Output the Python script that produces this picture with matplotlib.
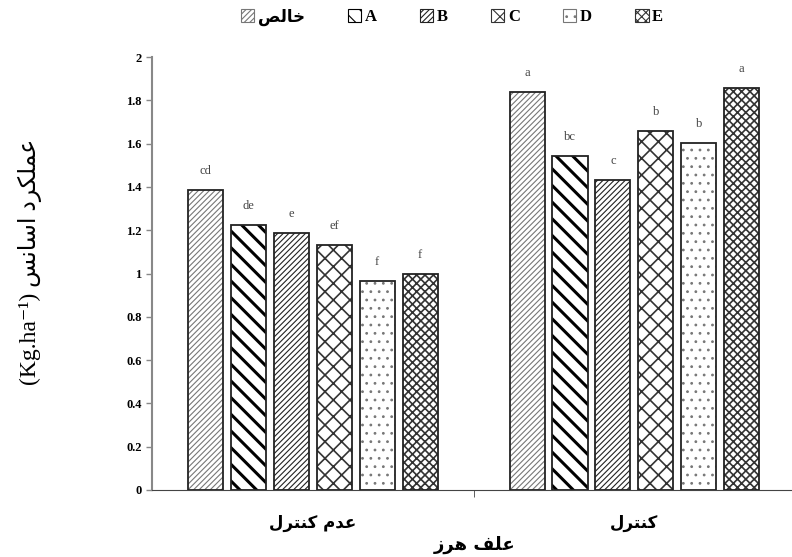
import matplotlib.pyplot as plt
from matplotlib.patches import Patch

# arabic text written in visual order with presentation forms (no shaping in mpl)
khales = "\uFEBA\uFEDF\uFE8E\uFEA7"                       # خالص
control = "\uFEDD\uFEAE\uFE98\uFEE8\uFB90"                  # کنترل
no_control = control + " " + "\uFEE1\uFEAA\uFECB"           # عدم کنترل
weed = "\uFEAF\uFEAE\uFEEB" + " " + "\uFED2\uFEE0\uFECB"     # علف هرز
ylab = "(Kg.ha\u207B\u00B9) " + "\uFEB2\uFEE7\uFE8E\uFEB3\uFE8D" + " " + "\uFEA9\uFEAE\uFB91\uFEE0\uFEE4\uFECB"

groups = [no_control, control]
series = [khales, "A", "B", "C", "D", "E"]
vals_no = [1.385, 1.225, 1.185, 1.13, 0.965, 1.0]
vals_ctl = [1.84, 1.545, 1.43, 1.66, 1.605, 1.855]
letters_no = ["cd", "de", "e", "ef", "f", "f"]
letters_ctl = ["a", "bc", "c", "b", "b", "a"]

hatches = ["//////", "\\\\", "//////", "xx", "..", "xxxx"]
hatch_cols = ["#777777", "black", "#222222", "#333333", "#777777", "#333333"]

fnt = ["Liberation Serif", "DejaVu Sans"]
plt.rcParams["font.family"] = fnt
plt.rcParams["hatch.linewidth"] = 0.8

fig = plt.figure(figsize=(7.92, 5.57), dpi=100)
ax = fig.add_axes([152 / 792, 67 / 557, 640 / 792, 433 / 557])

pitch = 0.1335
w = 0.109
for i in range(6):
    off = (i - 2.5) * pitch
    bars = ax.bar([0 + off, 1 + off], [vals_no[i], vals_ctl[i]], width=w,
                  color="white", edgecolor=hatch_cols[i], hatch=hatches[i], lw=0)
    for b in bars:
        if i == 1 and hasattr(b, "set_hatch_linewidth"):
            b.set_hatch_linewidth(2.2)
        if i in (3, 5) and hasattr(b, "set_hatch_linewidth"):
            b.set_hatch_linewidth(1.2)
    ax.bar([0 + off, 1 + off], [vals_no[i], vals_ctl[i]], width=w,
           color="none", edgecolor="#222222", lw=1.3)
    ax.text(0 + off, vals_no[i] + 0.06, letters_no[i], ha="center", va="bottom",
            fontsize=9, color="#444444")
    ax.text(1 + off, vals_ctl[i] + 0.06, letters_ctl[i], ha="center", va="bottom",
            fontsize=9, color="#444444")

ax.set_xlim(-0.5, 1.49)
ax.set_ylim(0, 2)
ax.set_yticks([0, 0.2, 0.4, 0.6, 0.8, 1, 1.2, 1.4, 1.6, 1.8, 2])
ax.set_yticklabels(["0", "0.2", "0.4", "0.6", "0.8", "1", "1.2", "1.4", "1.6", "1.8", "2"],
                   fontsize=9, fontweight="bold")
ax.tick_params(axis="y", direction="out", length=4, width=1, color="#888888")
ax.set_xticks([0, 1])
ax.set_xticklabels(groups, fontsize=12, fontweight="bold", family=["DejaVu Sans"])
ax.set_xticks([0.5], minor=True)
ax.tick_params(axis="x", which="major", length=0, pad=17)
ax.tick_params(axis="x", which="minor", direction="out", length=5, color="#444444")
for s in ["top", "right"]:
    ax.spines[s].set_visible(False)
ax.spines["left"].set_color("#888888")
ax.spines["left"].set_linewidth(1.5)
ax.spines["bottom"].set_color("#444444")

fig.text(475 / 792, 1 - 545 / 557, weed, ha="center", va="center", fontsize=13,
         fontweight="bold", family=["DejaVu Sans"])
fig.text(30 / 792, 1 - 262 / 557, ylab, ha="center", va="center", rotation=90,
         fontsize=17)

handles = [Patch(facecolor="white", edgecolor=hatch_cols[i], hatch=hatches[i], lw=0.8)
           for i in range(6)]
fig.legend(handles, series, loc="center", bbox_to_anchor=(452 / 792, 1 - 17 / 557),
           ncol=6, frameon=False, handlelength=0.8, handleheight=0.8,
           handletextpad=0.2, columnspacing=2.6,
           prop={"family": fnt, "weight": "bold", "size": 12})

fig.savefig("out.png", dpi=100)
